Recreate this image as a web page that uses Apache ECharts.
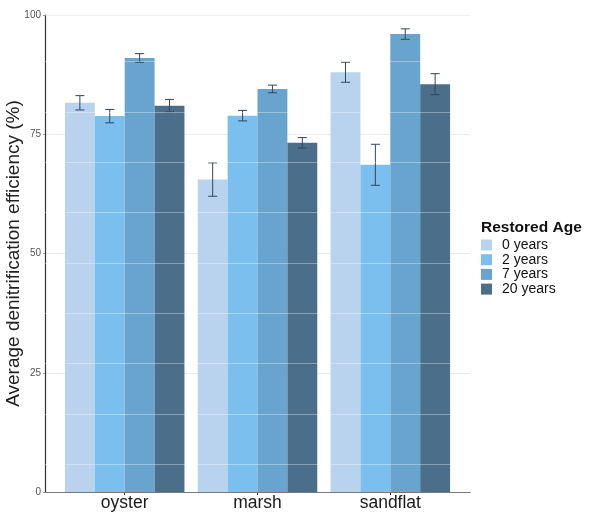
<!doctype html>
<html lang="en">
    <head>
        <meta charset="UTF-8" />
        <title>Denitrification efficiency by restored age</title>
        <script src="https://cdn.jsdelivr.net/npm/echarts@6.0.0/dist/echarts.min.js"></script>
        <style>
            html, body { margin: 0; padding: 0; background: #fff; }
        </style>
    </head>
    <body>
        <!-- Chart container -->
        <div id="main" style="width: 590px; height: 519px"></div>

        <script>
            // Habitats along the x axis
            const habitats = ["oyster", "marsh", "sandflat"];
            // Restored age groups (legend)
            const ages = ["0 years", "2 years", "7 years", "20 years"];
            const ageColors = ["#b9d3ee", "#7bbfee", "#68a4cd", "#4b6e8b"];

            // Mean efficiency (%) per habitat, one array per age
            const mean0 = [81.6, 65.5, 88.0];
            const mean2 = [78.8, 78.9, 68.6];
            const mean7 = [91.0, 84.5, 96.0];
            const mean20 = [81.0, 73.2, 85.5];

            // Standard error per habitat, one array per age
            const se0 = [1.5, 3.5, 2.1];
            const se2 = [1.4, 1.1, 4.3];
            const se7 = [0.9, 0.8, 1.1];
            const se20 = [1.3, 1.1, 2.2];

            const yTicks = [0, 25, 50, 75, 100];

            const means = [mean0, mean2, mean7, mean20];
            const errors = [se0, se2, se7, se20];

            // dodge layout, in category units
            const groupWidth = 0.9;
            const barWidth = groupWidth / ages.length;
            const capHalf = 0.034;

            const myChart = echarts.init(document.getElementById("main"));

            function renderBar(ageIndex) {
                return function (params, api) {
                    const cat = api.value(0);
                    const m = api.value(1);
                    const se = api.value(2);
                    const xc = cat + 1 + (ageIndex - (ages.length - 1) / 2) * barWidth;
                    const topLeft = api.coord([xc - barWidth / 2, m]);
                    const bottomRight = api.coord([xc + barWidth / 2, 0]);
                    const hi = api.coord([xc, m + se]);
                    const lo = api.coord([xc, m - se]);
                    const capL = api.coord([xc - capHalf, 0])[0];
                    const capR = api.coord([xc + capHalf, 0])[0];
                    const lineStyle = { stroke: "#35465a", lineWidth: 1 };
                    return {
                        type: "group",
                        children: [
                            {
                                type: "rect",
                                shape: {
                                    x: topLeft[0],
                                    y: topLeft[1],
                                    width: bottomRight[0] - topLeft[0],
                                    height: bottomRight[1] - topLeft[1],
                                },
                                style: { fill: ageColors[ageIndex] },
                            },
                            { type: "line", shape: { x1: hi[0], y1: hi[1], x2: lo[0], y2: lo[1] }, style: lineStyle, z2: 5 },
                            { type: "line", shape: { x1: capL, y1: hi[1], x2: capR, y2: hi[1] }, style: lineStyle, z2: 5 },
                            { type: "line", shape: { x1: capL, y1: lo[1], x2: capR, y2: lo[1] }, style: lineStyle, z2: 5 },
                        ],
                    };
                };
            }

            const series = ages.map((age, i) => ({
                name: age,
                type: "custom",
                xAxisIndex: 0,
                yAxisIndex: 0,
                itemStyle: { color: ageColors[i] },
                renderItem: renderBar(i),
                encode: { x: 0, y: 1 },
                data: habitats.map((h, j) => [j, means[i][j], errors[i][j]]),
            }));

            // faint white banding seen across the bars in the original
            const bandStart = 5.8;
            const bandStep = 10.55;

            const options = {
                animation: false,
                title: {
                    text: "Restored Age",
                    left: 481,
                    top: 220,
                    padding: 0,
                    textStyle: {
                        fontFamily: "Liberation Sans",
                        fontWeight: "bold",
                        fontSize: 15.5,
                        color: "#111",
                    },
                },
                legend: {
                    orient: "vertical",
                    left: 481,
                    top: 238,
                    padding: 0,
                    itemWidth: 11,
                    itemHeight: 11,
                    itemGap: 0.7,
                    icon: "rect",
                    data: ages,
                    textStyle: {
                        fontFamily: "Liberation Sans",
                        fontSize: 14,
                        lineHeight: 11,
                        color: "#111",
                        padding: [0, 0, 0, 5],
                    },
                },
                grid: {
                    left: 45,
                    right: 120,
                    top: 15,
                    bottom: 27,
                    containLabel: false,
                    outerBoundsMode: "none",
                },
                xAxis: {
                    type: "value",
                    min: 0.4,
                    max: 3.6,
                    splitLine: { show: false },
                    axisLine: { show: true, lineStyle: { color: "#333", width: 1.2 } },
                    axisTick: {
                        show: true,
                        customValues: [1, 2, 3],
                        length: 3,
                        lineStyle: { color: "#333" },
                    },
                    axisLabel: {
                        customValues: [1, 2, 3],
                        formatter: (v) => habitats[Math.round(v) - 1],
                        fontFamily: "Liberation Sans",
                        fontSize: 17.5,
                        color: "#1a1a1a",
                        margin: 2,
                    },
                },
                yAxis: [
                    {
                        type: "value",
                        min: yTicks[0],
                        max: yTicks[yTicks.length - 1],
                        interval: yTicks[1] - yTicks[0],
                        name: "Average denitrification efficiency (%)",
                        nameLocation: "middle",
                        nameGap: 22,
                        nameMoveOverlap: false,
                        nameTextStyle: {
                            fontFamily: "Liberation Sans",
                            fontSize: 19,
                            color: "#222",
                        },
                        axisLine: { show: true, lineStyle: { color: "#333", width: 1.2 } },
                        axisTick: { show: true, length: 2, lineStyle: { color: "#999" } },
                        axisLabel: {
                            fontFamily: "Liberation Sans",
                            fontSize: 10,
                            color: "#555",
                            margin: 4,
                        },
                        splitLine: { show: true, lineStyle: { color: "#ebebeb", width: 1 } },
                    },
                    {
                        type: "value",
                        min: (0 - bandStart) / bandStep,
                        max: (100 - bandStart) / bandStep,
                        splitNumber: 9,
                        z: 5,
                        show: true,
                        axisLine: { show: false },
                        axisTick: { show: false },
                        axisLabel: { show: false },
                        splitLine: {
                            show: true,
                            lineStyle: { color: "rgba(255,255,255,0.35)", width: 1 },
                        },
                    },
                ],
                series: series,
            };

            myChart.setOption(options);
        </script>
    </body>
</html>
